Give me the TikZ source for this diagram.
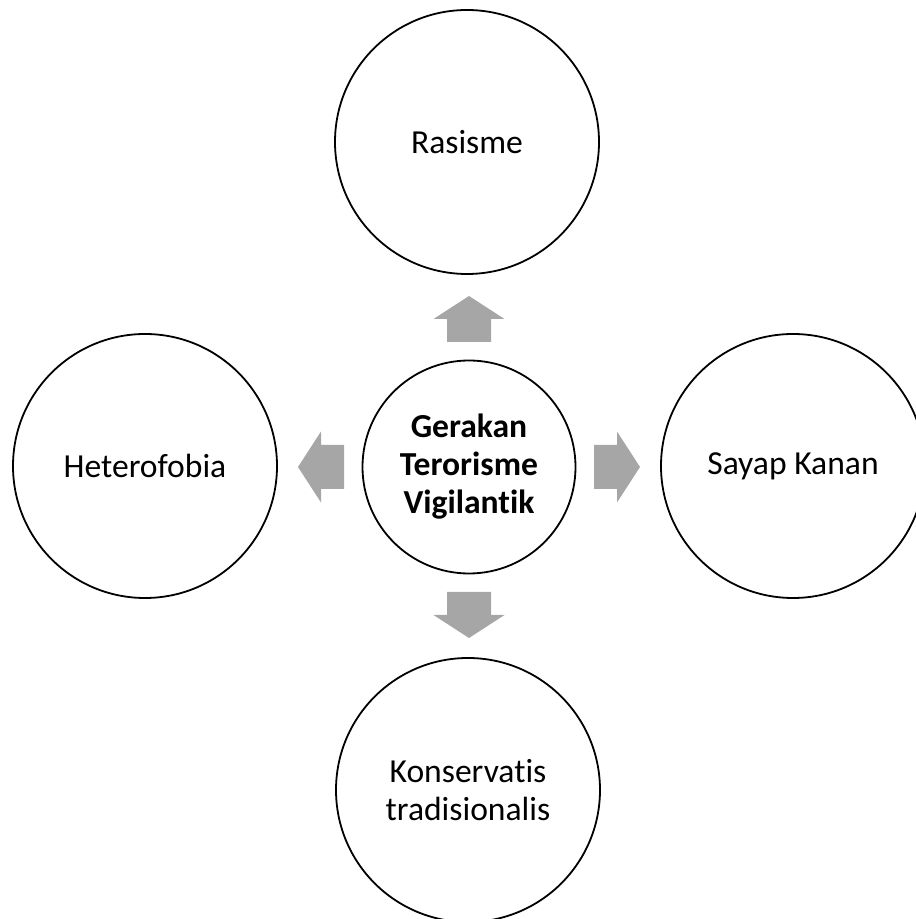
\documentclass[tikz,border=0pt]{standalone}
\usepackage{fontspec}
\setmainfont{Carlito}[RawFeature=-liga]
\definecolor{arrowgray}{HTML}{A6A6A6}
\begin{document}
\begin{tikzpicture}[x=1pt,y=1pt,
  topic/.style={circle,draw=black,line width=1.8pt,fill=white,
    minimum size=264pt,inner sep=0pt,align=center,
    font=\fontsize{33.6}{38}\selectfont},
  hub/.style={topic,minimum size=213pt,
    font=\fontsize{33.6}{38}\selectfont\bfseries},
  blockarrow/.pic={
    \fill[arrowgray] (125,-22) -- (148,-22) -- (148,-35.5) -- (171,0)
      -- (148,35.5) -- (148,22) -- (125,22) -- cycle;
  }]
\useasboundingbox (0,0) rectangle (916,919);
\clip (0,0) rectangle (916,919);

% central theme
\node[hub] (hub) at (469,452) {Gerakan\\Terorisme\\Vigilantik};

% surrounding themes
\node[topic] (rasisme) at (467,777) {Rasisme};
\node[topic] (hetero) at (145,453) {Heterofobia};
\node[topic] (sayap) at (793,453) {Sayap Kanan};
\node[topic] (konserv) at (468,129) {Konservatis\\tradisionalis};

% block arrows pointing outward from the hub
\pic[rotate=90] at (hub.center) {blockarrow};
\pic[rotate=180] at (hub.center) {blockarrow};
\pic[rotate=0] at (hub.center) {blockarrow};
\pic[rotate=-90] at (hub.center) {blockarrow};
\end{tikzpicture}
\end{document}
